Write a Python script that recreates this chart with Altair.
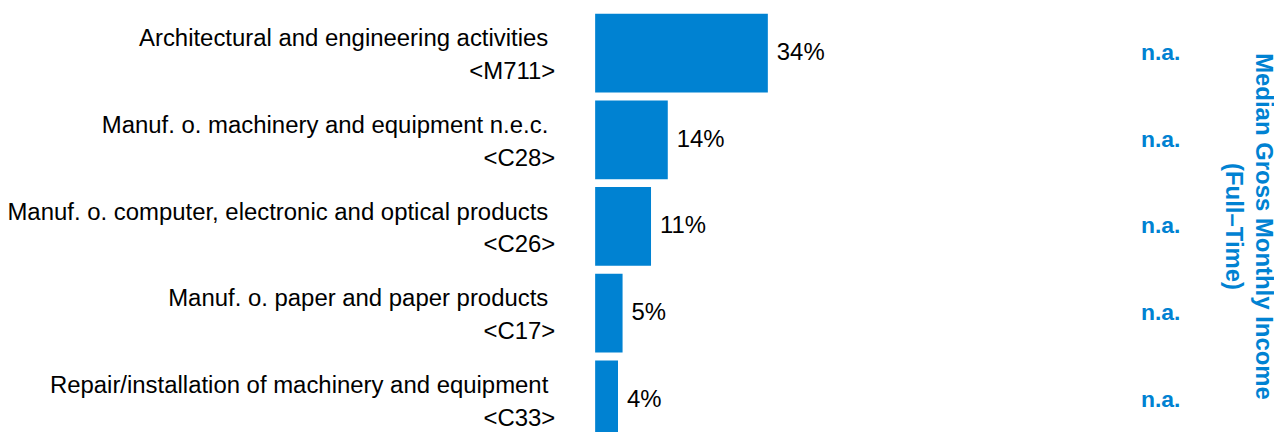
import altair as alt
import pandas as pd

names = [
    "Architectural and engineering activities",
    "Manuf. o. machinery and equipment n.e.c.",
    "Manuf. o. computer, electronic and optical products",
    "Manuf. o. paper and paper products",
    "Repair/installation of machinery and equipment",
]
codes = ["<M711>", "<C28>", "<C26>", "<C17>", "<C33>"]
shares = [34.0, 14.3, 11.0, 5.4, 4.5]
share_labels = ["34%", "14%", "11%", "5%", "4%"]
income_labels = ["n.a.", "n.a.", "n.a.", "n.a.", "n.a."]
right_title = ["Median Gross Monthly Income", "(Full\u2013Time)"]

BLUE = "#0082D2"
FONT = "Liberation Sans"

df = pd.DataFrame({
    "cat": codes,
    "name": names,
    "code": codes,
    "share": shares,
    "label": share_labels,
    "income": income_labels,
})

yscale = alt.Scale(paddingInner=0.092, paddingOuter=0.046)
xscale = alt.Scale(domain=[0, 105])

right_axis = alt.Axis(orient="right", domain=False, ticks=False, grid=False,
                      labelExpr="'n.a.'",
                      labelFont=FONT, labelFontSize=23, labelFontWeight="bold",
                      labelColor=BLUE, labelAlign="left", labelBaseline="middle",
                      labelPadding=12, labelLimit=0,
                      titleFont=FONT, titleFontSize=24, titleFontWeight="bold",
                      titleColor=BLUE, titleAngle=90, titleAlign="center",
                      titleBaseline="alphabetic", titleLineHeight=30,
                      titleX=127, titleY=217)
yenc = alt.Y("cat:N", sort=None, scale=yscale, title=right_title, axis=right_axis)
xzero = alt.X("zero:Q", scale=xscale, axis=None)

base = alt.Chart(df)

bars = base.mark_bar(color=BLUE).encode(
    y=yenc,
    x=alt.X("share:Q", scale=xscale, axis=None),
)

name_text = base.transform_calculate(zero="0").mark_text(
    align="right", baseline="alphabetic", dx=-47, dy=-7,
    font=FONT, fontSize=24, color="#000000"
).encode(y=yenc, x=xzero, text="name:N")

code_text = base.transform_calculate(zero="0").mark_text(
    align="right", baseline="alphabetic", dx=-40, dy=26,
    font=FONT, fontSize=24, color="#000000"
).encode(y=yenc, x=xzero, text="code:N")

pct = base.mark_text(
    align="left", baseline="middle", dx=9, font=FONT, fontSize=24, color="#000000"
).encode(
    y=yenc,
    x=alt.X("share:Q", scale=xscale, axis=None),
    text="label:N",
)

chart = alt.layer(bars, name_text, code_text, pct).properties(
    width=535,
    height=435,
    autosize=alt.AutoSizeParams(type="none"),
    padding={"left": 589, "top": 1, "right": 146, "bottom": 0},
).configure_view(stroke=None)

chart.save("out.html", embed_options={"renderer": "svg", "actions": False})
